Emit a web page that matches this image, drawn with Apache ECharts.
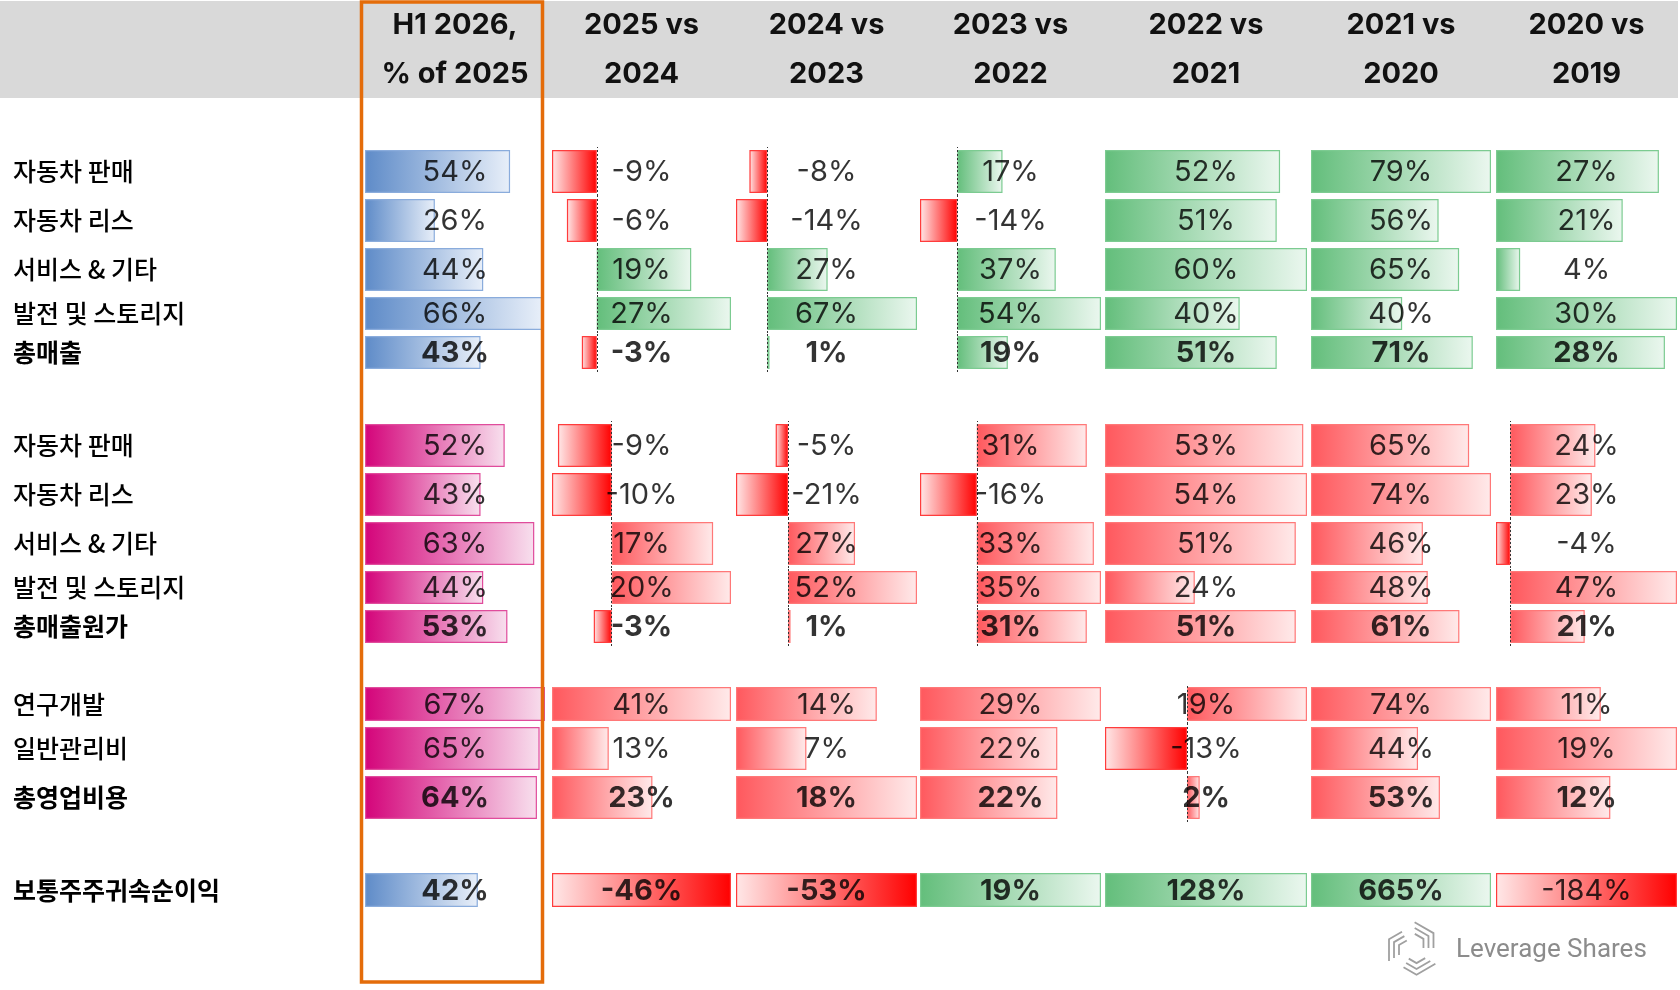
<!DOCTYPE html>
<html>
  <head>
    <meta charset="utf-8" />
    <title>ECharts</title>
    <script src="https://cdn.jsdelivr.net/npm/echarts@6/dist/echarts.min.js"></script>
    <style>
      html, body { margin: 0; padding: 0; background: #fff; }
      #main { width: 1680px; height: 990px; }
    </style>
  </head>
  <body>
    <div id="main"></div>
    <script type="text/javascript">
// column headers (two lines each)
const colHeaders = [
  ['H1 2026,', '% of 2025'],
  ['2025 vs', '2024'],
  ['2024 vs', '2023'],
  ['2023 vs', '2022'],
  ['2022 vs', '2021'],
  ['2021 vs', '2020'],
  ['2020 vs', '2019']
];

// revenue block
const revenueRows = ['자동차 판매', '자동차 리스', '서비스 & 기타', '발전 및 스토리지', '총매출'];
const revenueData = [
  [54, -9, -8, 17, 52, 79, 27],
  [26, -6, -14, -14, 51, 56, 21],
  [44, 19, 27, 37, 60, 65, 4],
  [66, 27, 67, 54, 40, 40, 30],
  [43, -3, 1, 19, 51, 71, 28]
];

// cost of revenue block
const costRows = ['자동차 판매', '자동차 리스', '서비스 & 기타', '발전 및 스토리지', '총매출원가'];
const costData = [
  [52, -9, -5, 31, 53, 65, 24],
  [43, -10, -21, -16, 54, 74, 23],
  [63, 17, 27, 33, 51, 46, -4],
  [44, 20, 52, 35, 24, 48, 47],
  [53, -3, 1, 31, 51, 61, 21]
];

// operating expenses block
const opexRows = ['연구개발', '일반관리비', '총영업비용'];
const opexData = [
  [67, 41, 14, 29, 19, 74, 11],
  [65, 13, 7, 22, -13, 44, 19],
  [64, 23, 18, 22, 2, 53, 12]
];

// net income
const netRows = ['보통주주귀속순이익'];
const netData = [[42, -46, -53, 19, 128, 665, -184]];

// ---- layout / style ----
const colLeft = [365, 552, 736, 920, 1105, 1311, 1496];
const colWidth = [180, 179, 181, 181, 202, 180, 181];

const palettes = {
  blue:   { from: '#5E8BC8', to: '#E8EFF9', border: '#8AACDC' },
  pink:   { from: '#D4047A', to: '#F8E0EE', border: '#E04C9C' },
  green:  { from: '#63BE7B', to: '#EBF7EF', border: '#7CCB91' },
  salmon: { from: '#FF585D', to: '#FFEAEA', border: '#FF7878' },
  neg:    { from: '#FF0000', to: '#FFE8E8', border: '#FF3C3C' }
};

const groups = [
  { rows: revenueRows, data: revenueData, top: 147, heights: [49, 49, 49, 39, 39], first: 'blue', pos: 'green' },
  { rows: costRows, data: costData, top: 421, heights: [49, 49, 49, 39, 39], first: 'pink', pos: 'salmon' },
  { rows: opexRows, data: opexData, top: 684, heights: [40, 49, 49], first: 'pink', pos: 'salmon' },
  { rows: netRows, data: netData, top: 870, heights: [40], first: 'blue', pos: 'green', plain: [6] }
];

// first column uses one scale for the whole column
const firstCol = [].concat(...groups.map(g => g.data.map(r => r[0])));

function grad(p, negative) {
  const stops = negative
    ? [{ offset: 0, color: p.to }, { offset: 1, color: p.from }]
    : [{ offset: 0, color: p.from }, { offset: 1, color: p.to }];
  return { type: 'linear', x: 0, y: 0, x2: 1, y2: 0, colorStops: stops };
}

const grids = [], xAxes = [], yAxes = [], series = [];

groups.forEach(function (g) {
  let top = g.top;
  g.rows.forEach(function (label, r) {
    const h = g.heights[r];
    const bold = r === g.rows.length - 1;
    g.data[r].forEach(function (v, c) {
      const vals = c === 0 ? firstCol : g.data.map(row => row[c]);
      const min = Math.min(0, ...vals);
      const max = Math.max(0, ...vals);
      const gi = grids.length;
      grids.push({ left: colLeft[c], top: top, width: colWidth[c], height: h });
      xAxes.push({ type: 'value', gridIndex: gi, min: min, max: max, show: false });
      yAxes.push({
        type: 'category', gridIndex: gi, data: [label], show: c === 0,
        axisLine: { show: false }, axisTick: { show: false }, splitLine: { show: false },
        axisLabel: {
          show: c === 0, align: 'left', margin: colLeft[0] - 13,
          fontFamily: 'Noto Sans CJK KR', fontSize: 25,
          fontWeight: bold ? 'bold' : 500, color: '#000'
        }
      });
      const pal = v < 0 ? palettes.neg : (c === 0 ? palettes[g.first] : palettes[g.pos]);
      const bar = {
        type: 'bar', xAxisIndex: gi, yAxisIndex: gi, barWidth: h - 6,
        data: [{ value: v, itemStyle: { color: grad(pal, v < 0), borderColor: pal.border, borderWidth: 1.2 } }]
      };
      if (min < 0 && max > 0) {
        bar.markLine = {
          silent: true, symbol: 'none', label: { show: false },
          lineStyle: { type: [2, 2], color: '#333', width: 1 },
          data: [{ xAxis: 0 }]
        };
      }
      series.push(bar);
      const isPlain = g.plain && g.plain.indexOf(c) >= 0;
      series.push({
        type: 'scatter', xAxisIndex: gi, yAxisIndex: gi, symbolSize: 1, z: 5,
        itemStyle: { color: 'transparent' },
        data: [[(min + max) / 2, 0]],
        label: {
          show: true, position: 'inside', formatter: v + '%', offset: [0, 1],
          fontFamily: 'Inter', fontSize: 29, color: '#000',
          fontWeight: bold && !isPlain ? 'bold' : 'normal'
        }
      });
    });
    top += h;
  });
});

// header band, column titles, highlight frame, logo
const graphic = [
  { type: 'rect', shape: { x: 0, y: 1, width: 1678, height: 97 }, style: { fill: '#D9D9D9' }, z: 0 }
];
colHeaders.forEach(function (lines, c) {
  lines.forEach(function (t, i) {
    graphic.push({
      type: 'text', x: colLeft[c] + colWidth[c] / 2, y: i === 0 ? 25 : 74, z: 1,
      style: { text: t, font: 'bold 29px Inter', fill: '#111', align: 'center', verticalAlign: 'middle' }
    });
  });
});
graphic.push({
  type: 'rect', z: 100,
  shape: { x: 361.5, y: 2, width: 181, height: 980 },
  style: { fill: 'none', stroke: '#E46C0A', lineWidth: 3.5 }
});
// logo mark: pinwheel of three separate arms, each three parallel bent strokes
const logoParts = [];
[0, 1, 2].forEach(function (k) {
  for (let i = 0; i < 3; i++) {
    const x = -24 + i * 5;
    const bendY = -4 - (2 - i) * 2.9;
    const len = 15 - i * 3;
    logoParts.push({
      type: 'polyline', rotation: k * 2 * Math.PI / 3,
      shape: { points: [[x, 12 - i * 3], [x, bendY], [x + len * 0.866, bendY - len * 0.5]] },
      style: { stroke: '#A0A0A0', lineWidth: 1.8, fill: 'none' }
    });
  }
});
graphic.push({ type: 'group', x: 1413, y: 949, children: logoParts });
graphic.push({
  type: 'text', x: 1456, y: 950,
  style: { text: 'Leverage Shares', font: '26px Roboto', fill: '#8C8C8C', verticalAlign: 'middle' }
});

var chartDom = document.getElementById('main');
var myChart = echarts.init(chartDom);
var option = {
  animation: false,
  backgroundColor: '#fff',
  grid: grids,
  xAxis: xAxes,
  yAxis: yAxes,
  series: series,
  graphic: graphic
};
myChart.setOption(option);
    </script>
  </body>
</html>
